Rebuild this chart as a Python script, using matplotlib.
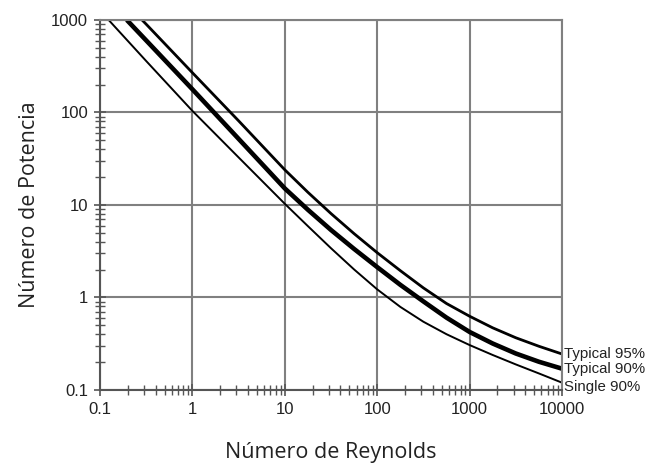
import matplotlib
matplotlib.use("Agg")
import matplotlib.pyplot as plt
from matplotlib.ticker import LogLocator, FixedLocator, NullFormatter

# Data (Reynolds number vs power number)
re_single = [0.124, 0.316, 1, 3.16, 10, 17.8, 31.6, 56.2, 100, 178, 316, 562, 1000, 1778, 3162, 5623, 10000]
np_single = [1000, 360, 104, 32.7, 10.3, 5.9, 3.41, 2.01, 1.224, 0.791, 0.547, 0.401, 0.306, 0.239, 0.189, 0.151, 0.12]

re_typ90 = [0.195, 0.316, 1, 3.16, 10, 17.8, 31.6, 56.2, 100, 178, 316, 562, 1000, 1778, 3162, 5623, 10000]
np_typ90 = [1000, 601, 178, 51.9, 15.1, 8.87, 5.37, 3.35, 2.13, 1.37, 0.907, 0.606, 0.424, 0.318, 0.248, 0.202, 0.17]

re_typ95 = [0.285, 0.316, 1, 3.16, 10, 17.8, 31.6, 56.2, 100, 178, 316, 562, 1000, 1778, 3162, 5623, 10000]
np_typ95 = [1000, 900, 269, 81.3, 24, 13.7, 8.08, 4.9, 3.05, 1.95, 1.27, 0.861, 0.627, 0.47, 0.367, 0.297, 0.245]

series_labels = ["Typical 95%", "Typical 90%", "Single 90%"]

x_ticks = [0.1, 1, 10, 100, 1000, 10000]
x_ticklabels = ["0.1", "1", "10", "100", "1000", "10000"]
y_ticks = [0.1, 1, 10, 100, 1000]
y_ticklabels = ["0.1", "1", "10", "100", "1000"]

fig = plt.figure(figsize=(6.47, 4.68), dpi=100)
ax = fig.add_axes([0.1546, 0.1667, 0.714, 0.7906])

ax.set_xscale("log")
ax.set_yscale("log")
ax.set_xlim(0.1, 10000)
ax.set_ylim(0.1, 1000)

grid_c = "#808080"
ax.xaxis.set_major_locator(FixedLocator(x_ticks))
ax.yaxis.set_major_locator(FixedLocator(y_ticks))
ax.set_xticklabels(x_ticklabels)
ax.set_yticklabels(y_ticklabels)
ax.xaxis.set_minor_locator(LogLocator(base=10, subs=range(2, 10), numticks=20))
ax.yaxis.set_minor_locator(LogLocator(base=10, subs=range(2, 10), numticks=20))
ax.xaxis.set_minor_formatter(NullFormatter())
ax.yaxis.set_minor_formatter(NullFormatter())

ax.grid(True, which="major", color=grid_c, linewidth=1.5)
for s in ax.spines.values():
    s.set_color(grid_c)
    s.set_linewidth(1.5)
ax.spines["left"].set_color("#555555")
ax.spines["bottom"].set_color("#555555")

ax.tick_params(which="major", direction="inout", length=9, width=1.2, color="#555555",
               labelsize=12, labelcolor="#222222", pad=4,
               labelfontfamily="Liberation Sans")
ax.tick_params(which="minor", direction="inout", length=7, width=1.0, color="#555555")

ax.plot(re_typ95, np_typ95, color="black", linewidth=2.0, solid_capstyle="butt")
ax.plot(re_typ90, np_typ90, color="black", linewidth=3.3, solid_capstyle="butt")
ax.plot(re_single, np_single, color="black", linewidth=1.4, solid_capstyle="butt")

label_ys = [np_typ95[-1], np_typ90[-1], np_single[-1]]
label_offsets = [0, 0, -3]
for lab, yv, off in zip(series_labels, label_ys, label_offsets):
    ax.annotate(lab, xy=(10000, yv), xytext=(1.5, off), textcoords="offset points",
                va="center", ha="left", fontsize=10.8, color="#222222",
                family="Liberation Sans", annotation_clip=False)

ax.set_xlabel("Número de Reynolds", fontsize=15.5, family="Open Sans", color="#222222", labelpad=18)
ax.set_ylabel("Número de Potencia", fontsize=15.5, family="Open Sans", color="#222222", labelpad=8)

fig.savefig("out.png", dpi=100)
